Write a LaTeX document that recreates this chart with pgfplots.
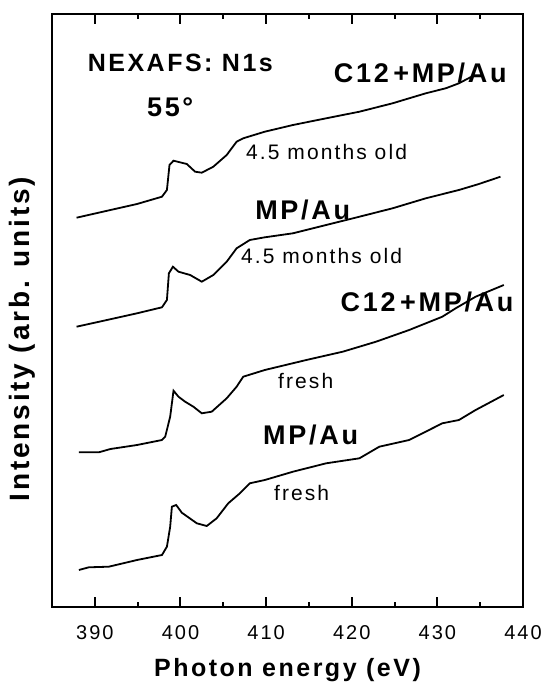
\documentclass[border=0pt]{standalone}
\usepackage{fontspec}
\setmainfont{Liberation Sans}
\newfontfamily\lsfont[LetterSpace=10]{Liberation Sans}
\usepackage{pgfplots}
\pgfplotsset{compat=1.18}
\begin{document}
\begin{tikzpicture}
\begin{axis}[
  at={(0,0)}, anchor=south west,
  scale only axis, width=471pt, height=593pt,
  xmin=385, xmax=440, ymin=0, ymax=593,
  axis line style={line width=2pt},
  xtick={390,400,...,440}, minor xtick={395,405,...,435},
  xtick pos=both, xticklabel pos=bottom, tick align=inside,
  major tick length=10pt, minor tick length=5pt,
  every tick/.style={line width=2pt, black},
  ytick=\empty,
  /pgf/number format/assume math mode=true,
  xticklabel style={anchor=center, yshift=-26pt, font=\lsfont\fontsize{20}{22}\selectfont},
  xlabel={Photon energy (eV)},
  xlabel style={at={(axis description cs:0.5,-0.1062)}, anchor=center, font=\lsfont\fontsize{25}{28}\selectfont\bfseries},
  clip=false,
]
% C12+MP/Au, 4.5 months old
\addplot[black, line width=1.8pt] coordinates {
(387.87,389.3) (391.83,397) (394.93,403) (397.84,410.3) (398.42,417) (398.72,442)
(399.19,446.3) (400.74,443) (401.71,435.3) (402.49,434.3) (403.84,440.3) (405.40,452)
(406.56,465.3) (407.33,468.7) (409.85,475.3) (413.14,482) (417.02,488.7) (420.90,495.3)
(424.77,503.7) (428.65,513.7) (430.98,518.7) (432.52,523.7) (433.92,530)};
% MP/Au, 4.5 months old
\addplot[black, line width=1.8pt] coordinates {
(387.87,280.3) (391.05,286.3) (394.93,293.7) (397.84,299.7) (398.42,307) (398.65,333.7)
(399.12,340.3) (399.77,335.3) (401.13,332) (402.49,325.3) (403.84,332) (405.40,345.3)
(406.56,358.7) (408.10,367) (409.85,369.7) (413.14,373.7) (417.02,382) (420.90,390.3)
(424.77,398.7) (428.65,408.7) (432.52,417) (434.85,423) (437.37,430.3)};
% C12+MP/Au, fresh
\addplot[black, line width=1.8pt] coordinates {
(388.14,154.7) (390.47,154.7) (391.83,158) (394.93,162) (397.84,167) (398.22,170.3)
(398.80,190.3) (399.19,216.3) (399.77,210.3) (400.55,205.3) (401.51,200.3) (402.49,193.7)
(403.65,195.3) (405.40,208.7) (406.56,220.3) (407.33,230.3) (409.85,237) (414.70,247)
(418.95,255.3) (422.84,265.3) (426.71,277) (430.58,290.3) (432.14,298.7) (434.47,310.3)
(437.76,322)};
% MP/Au, fresh
\addplot[black, line width=1.8pt] coordinates {
(388.14,37) (389.30,39.7) (391.63,40.3) (394.93,47) (397.84,52) (398.42,60.3)
(398.80,80.3) (399.00,100.3) (399.50,102) (400.16,94.3) (401.91,83.7) (403.07,81)
(404.23,88.7) (405.58,103.7) (406.94,113.7) (408.10,123.7) (409.85,127) (413.14,135.3)
(417.02,143.7) (420.90,148.7) (423.22,160.3) (426.71,167) (430.58,183.7) (432.52,187)
(434.47,197) (437.76,212)};
\node[rotate=90, anchor=center, font=\lsfont\fontsize{28}{30}\selectfont\bfseries] at (axis description cs:-0.0637,0.452) {Intensity (arb. units)};
\node[font=\lsfont\fontsize{25}{28}\selectfont\bfseries] at (axis cs:399.99,544) {NEXAFS: N1s};
\node[font=\lsfont\fontsize{27}{30}\selectfont\bfseries] at (axis cs:398.8,500) {55°};
\node[font=\lsfont\fontsize{27}{30}\selectfont\bfseries] at (axis cs:428.0,534) {C12\,+MP/Au};
\node[font=\lsfont\fontsize{21}{24}\selectfont] at (axis cs:417.06,455) {4.5 months old};
\node[font=\lsfont\fontsize{27}{30}\selectfont\bfseries] at (axis cs:414.27,397) {MP/Au};
\node[font=\lsfont\fontsize{21}{24}\selectfont] at (axis cs:416.48,351) {4.5 months old};
\node[font=\lsfont\fontsize{27}{30}\selectfont\bfseries] at (axis cs:428.8,305) {C12\,+MP/Au};
\node[font=\lsfont\fontsize{21}{24}\selectfont] at (axis cs:414.62,226) {fresh};
\node[font=\lsfont\fontsize{27}{30}\selectfont\bfseries] at (axis cs:415.2,172) {MP/Au};
\node[font=\lsfont\fontsize{21}{24}\selectfont] at (axis cs:414.15,114) {fresh};
\end{axis}
\path[use as bounding box] (-52pt,-79pt) rectangle (486pt,607pt);
\end{tikzpicture}
\end{document}
